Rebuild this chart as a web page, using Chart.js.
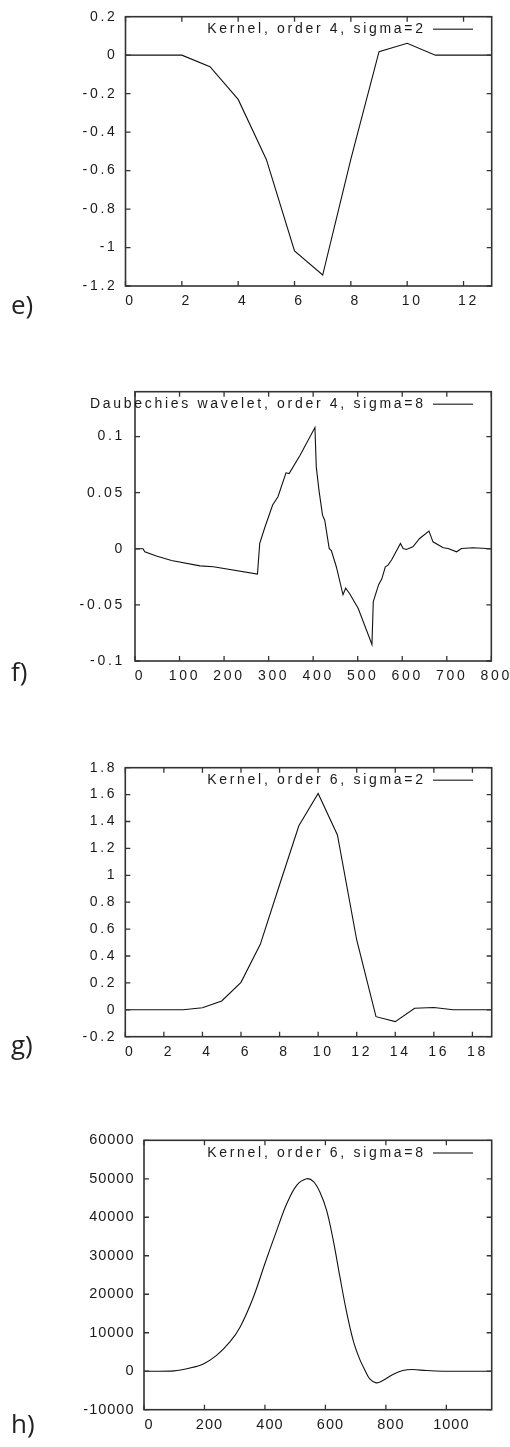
<!DOCTYPE html>
<html>
<head>
<meta charset="utf-8">
<script src="https://cdn.jsdelivr.net/npm/chart.js@4.4.0/dist/chart.umd.min.js"></script>
<style>
  html, body { margin: 0; padding: 0; background: #fff; }
  body { position: relative; width: 510px; height: 1447px; overflow: hidden; }
  canvas { position: absolute; left: 0; }
  .tag { position: absolute; left: 11px; font: 26px/26px "Open Sans", sans-serif; color: #222; }
</style>
</head>
<body>
<canvas id="plotE" width="510" height="330" style="top:0"></canvas>
<canvas id="plotF" width="510" height="370" style="top:330px"></canvas>
<canvas id="plotG" width="510" height="370" style="top:700px"></canvas>
<canvas id="plotH" width="510" height="377" style="top:1070px"></canvas>
<div class="tag" style="top:291px">e)</div>
<div class="tag" style="top:658px">f)</div>
<div class="tag" style="top:1031px">g)</div>
<div class="tag" style="top:1410px">h)</div>
<script>
// e) kernel, order 4, sigma 2
const eLabel = 'Kernel, order 4, sigma=2';
const eX = [0, 1, 2, 3, 4, 5, 6, 7, 8, 9, 10, 11, 12, 13];
const eY = [0, 0, 0, -0.06, -0.23, -0.542, -1.018, -1.143, -0.54, 0.018, 0.062, 0, 0, 0];
const eXTicks = [0, 2, 4, 6, 8, 10, 12];
const eYTicks = [-1.2, -1, -0.8, -0.6, -0.4, -0.2, 0, 0.2];

// f) Daubechies wavelet, order 4, sigma 8
const fLabel = 'Daubechies wavelet, order 4, sigma=8';
const fX = [0, 18, 22, 48, 82, 146, 176, 275, 280, 292, 309, 321, 339, 346, 370, 404,
  407, 413, 421, 426, 436, 441, 452, 467, 473, 482, 501, 532, 535, 547, 554, 562,
  568, 576, 596, 602, 609, 624, 639, 660, 669, 692, 703, 722, 733, 759, 800];
const fY = [0, 0, -0.0027, -0.0065, -0.0104, -0.0152, -0.016, -0.0226, 0.0048, 0.0196,
  0.039, 0.0464, 0.0677, 0.067, 0.083, 0.108, 0.073, 0.0523, 0.03, 0.0255, 0.0003,
  -0.0018, -0.016, -0.041, -0.035, -0.04, -0.053, -0.0852, -0.047, -0.032, -0.027,
  -0.016, -0.0146, -0.01, 0.0048, 0.0003, -0.0006, 0.0018, 0.0092, 0.0157, 0.0062,
  0.0009, 0.0003, -0.0027, 0.0003, 0.0009, 0];
const fXTicks = [0, 100, 200, 300, 400, 500, 600, 700, 800];
const fYTicks = [-0.1, -0.05, 0, 0.05, 0.1];

// g) kernel, order 6, sigma 2
const gLabel = 'Kernel, order 6, sigma=2';
const gX = [0, 1, 2, 3, 4, 5, 6, 7, 8, 9, 10, 11, 12, 13, 14, 15, 16, 17, 18, 19];
const gY = [0, 0, 0, 0, 0.015, 0.066, 0.204, 0.487, 0.93, 1.368, 1.608, 1.3, 0.519,
  -0.051, -0.088, 0.011, 0.017, 0, 0, 0];
const gXTicks = [0, 2, 4, 6, 8, 10, 12, 14, 16, 18];
const gYTicks = [-0.2, 0, 0.2, 0.4, 0.6, 0.8, 1, 1.2, 1.4, 1.6, 1.8];

// h) kernel, order 6, sigma 8
const hLabel = 'Kernel, order 6, sigma=8';
const hX = [0, 100, 150, 196, 240, 284, 318, 362, 400, 439, 472, 505, 538, 560, 582,
  604, 626, 648, 670, 692, 714, 730, 746, 768, 790, 823, 856, 889, 933, 988, 1150];
const hY = [0, 90, 800, 1900, 4100, 7600, 11500, 19300, 28000, 36600, 43500, 48300,
  50000, 49300, 46500, 41800, 34000, 24500, 15400, 7970, 3000, 400, -1900, -3030,
  -2420, -870, 170, 430, 170, 0, 0];
const hXTicks = [0, 200, 400, 600, 800, 1000];
const hYTicks = [-10000, 0, 10000, 20000, 30000, 40000, 50000, 60000];

Chart.defaults.font.family = '"Liberation Sans", Arial, sans-serif';
Chart.defaults.font.size = 14;
Chart.defaults.color = '#1a1a1a';

// gnuplot-style frame: box border, ticks pointing inward on all four sides, key at top right
const gnuFrame = {
  id: 'gnuFrame',
  beforeDraw(chart, args, opts) {
    chart.ctx.letterSpacing = opts.spacing + 'px';
  },
  afterDatasetsDraw(chart, args, opts) {
    const { ctx, chartArea: a, scales: { x, y } } = chart;
    ctx.save();
    ctx.strokeStyle = '#333';
    ctx.lineWidth = 1.3;
    ctx.beginPath();
    x.ticks.forEach(t => {
      const px = x.getPixelForValue(t.value);
      ctx.moveTo(px, a.bottom); ctx.lineTo(px, a.bottom - 5);
      ctx.moveTo(px, a.top); ctx.lineTo(px, a.top + 5);
    });
    y.ticks.forEach(t => {
      const py = y.getPixelForValue(t.value);
      ctx.moveTo(a.left, py); ctx.lineTo(a.left + 5, py);
      ctx.moveTo(a.right, py); ctx.lineTo(a.right - 5, py);
    });
    ctx.stroke();
    ctx.lineWidth = 1.6;
    ctx.strokeRect(a.left, a.top, a.right - a.left, a.bottom - a.top);

    // key
    ctx.letterSpacing = '2.7px';
    ctx.font = '14px "Liberation Sans", Arial, sans-serif';
    ctx.fillStyle = '#1a1a1a';
    ctx.textAlign = 'right';
    ctx.textBaseline = 'middle';
    const ky = a.top + 12.6;
    ctx.fillText(chart.data.datasets[0].label, 425.7, ky);
    ctx.strokeStyle = '#555';
    ctx.lineWidth = 1.5;
    ctx.beginPath();
    ctx.moveTo(433, ky); ctx.lineTo(473, ky);
    ctx.stroke();
    ctx.restore();
  }
};

function plot(id, label, xs, ys, xTicks, yTicks, box, style) {
  const canvas = document.getElementById(id);
  const H = canvas.height;
  return new Chart(canvas, {
    type: 'line',
    data: {
      datasets: [{
        label,
        data: xs.map((v, i) => ({ x: v, y: ys[i] })),
        borderColor: '#111',
        borderWidth: 1.1,
        pointRadius: 0,
        tension: style.smooth ? 0.35 : 0,
      }],
    },
    options: {
      responsive: false,
      animation: false,
      events: [],
      layout: { padding: { left: 0, top: box.top, right: 510 - box.right, bottom: 0 } },
      plugins: {
        legend: { display: false },
        tooltip: { enabled: false },
        gnuFrame: { spacing: style.spacing },
      },
      scales: {
        x: {
          type: 'linear',
          min: xTicks[0],
          max: style.xMax,
          afterBuildTicks: s => { s.ticks = xTicks.map(v => ({ value: v })); },
          afterFit: s => { s.height = H - box.bottom; },
          ticks: {
            padding: 7,
            labelOffset: 5,
            maxRotation: 0,
            autoSkip: false,
            font: { size: style.tickSize },
            callback: v => String(v),
          },
          grid: { display: false, drawTicks: false },
          border: { display: false },
        },
        y: {
          type: 'linear',
          min: yTicks[0],
          max: style.yMax,
          afterBuildTicks: s => { s.ticks = yTicks.map(v => ({ value: v })); },
          afterFit: s => { s.width = box.left; },
          ticks: {
            padding: style.yPad,
            autoSkip: false,
            font: { size: style.tickSize },
            callback: v => String(Math.round(v * 1e6) / 1e6),
          },
          grid: { display: false, drawTicks: false },
          border: { display: false },
        },
      },
    },
    plugins: [gnuFrame],
  });
}

plot('plotE', eLabel, eX, eY, eXTicks, eYTicks,
  { left: 125.5, top: 16.7, right: 491.7, bottom: 286 },
  { xMax: 13, yMax: 0.2, tickSize: 14, spacing: 2.7, yPad: 8 });
plot('plotF', fLabel, fX, fY, fXTicks, fYTicks,
  { left: 135, top: 61.7, right: 491.7, bottom: 331 },
  { xMax: 800, yMax: 0.14, tickSize: 14, spacing: 2.7, yPad: 10 });
plot('plotG', gLabel, gX, gY, gXTicks, gYTicks,
  { left: 125.3, top: 67.7, right: 491.7, bottom: 336.7 },
  { xMax: 19, yMax: 1.8, tickSize: 14, spacing: 2.7, yPad: 8 });
plot('plotH', hLabel, hX, hY, hXTicks, hYTicks,
  { left: 144, top: 70.3, right: 491.7, bottom: 339.7 },
  { xMax: 1150, yMax: 60000, tickSize: 14.5, spacing: 1, yPad: 9.5, smooth: true });
</script>
</body>
</html>
